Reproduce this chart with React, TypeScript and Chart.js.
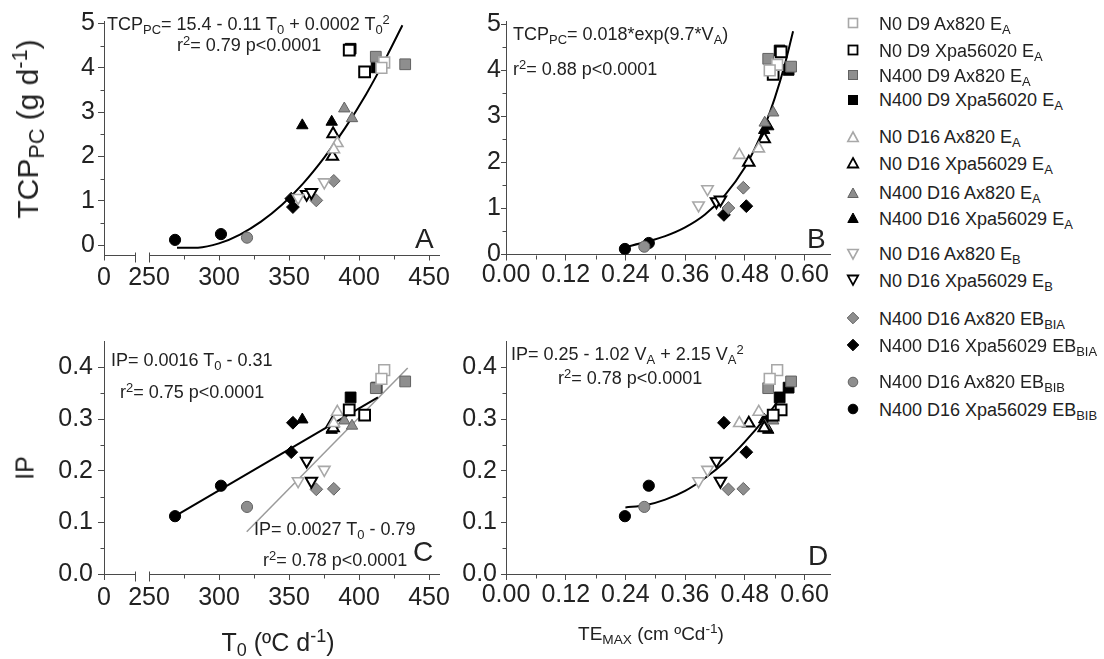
import React, { useEffect, useRef } from 'react';
import { Chart, registerables } from 'chart.js';

Chart.register(...registerables);

// ---------- DATA ----------
const SERIES_LABELS: [string, string][] = [
  ['N0 D9 Ax820 E', 'A'],
  ['N0 D9 Xpa56020 E', 'A'],
  ['N400 D9 Ax820 E', 'A'],
  ['N400 D9 Xpa56020 E', 'A'],
  ['N0 D16 Ax820 E', 'A'],
  ['N0 D16 Xpa56029 E', 'A'],
  ['N400 D16 Ax820 E', 'A'],
  ['N400 D16 Xpa56029 E', 'A'],
  ['N0 D16 Ax820 E', 'B'],
  ['N0 D16 Xpa56029 E', 'B'],
  ['N400 D16 Ax820 EB', 'BIA'],
  ['N400 D16 Xpa56029 EB', 'BIA'],
  ['N400 D16 Ax820 EB', 'BIB'],
  ['N400 D16 Xpa56029 EB', 'BIB'],
];

// T0 (ºC d-1) per series
const T0: number[][] = [
  [418, 416], [393, 404], [433, 412], [394, 412.6],
  [384.5, 382], [381, 381.5], [389.5, 395], [359.5, 380.5],
  [356.5, 375.2], [362.6, 366], [369.5, 382], [352.8, 351.6],
  [320], [268.6, 301.4],
];
// TE_MAX / V_A per series
const VA: number[][] = [
  [0.545, 0.53], [0.553, 0.537], [0.573, 0.527], [0.55, 0.568],
  [0.508, 0.469], [0.488, 0.519], [0.537, 0.52], [0.519, 0.527],
  [0.387, 0.405], [0.423, 0.431], [0.447, 0.477], [0.438, 0.483],
  [0.278], [0.239, 0.287],
];
// TCP_PC (g d-1)
const TCP: number[][] = [
  [4.12, 4.0], [4.4, 3.91], [4.08, 4.25], [4.43, 4.01],
  [2.3, 2.16], [2.0, 2.51], [3.08, 2.86], [2.7, 2.78],
  [1.07, 1.42], [1.15, 1.19], [1.01, 1.45], [0.86, 1.05],
  [0.17], [0.12, 0.25],
];
// IP
const IP: number[][] = [
  [0.395, 0.378], [0.318, 0.308], [0.373, 0.36], [0.342, 0.361],
  [0.314, 0.292], [0.292, 0.283], [0.297, 0.287], [0.299, 0.279],
  [0.18, 0.202], [0.219, 0.18], [0.164, 0.165], [0.293, 0.236],
  [0.13], [0.112, 0.171],
];

// fitted curves
const FIT_A_T = [270, 285, 300, 315, 330, 345, 360, 375, 390, 405, 420, 431];
const FIT_A_TCP = [-0.06, -0.056, 0.04, 0.24, 0.53, 0.91, 1.39, 1.97, 2.64, 3.4, 4.27, 4.96];
const FIT_B_V = [0.24, 0.28, 0.32, 0.36, 0.4, 0.44, 0.48, 0.5, 0.52, 0.54, 0.56, 0.577];
const FIT_B_TCP = [0.16, 0.27, 0.4, 0.59, 0.87, 1.29, 1.89, 2.3, 2.79, 3.39, 4.11, 4.85];
const FIT_C1_T = [268.6, 413.5];
const FIT_C1_IP = [0.112, 0.342];
const FIT_C2_T = [319.8, 434.8];
const FIT_C2_IP = [0.082, 0.399];
const FIT_D_V = [0.24, 0.28, 0.32, 0.36, 0.4, 0.44, 0.48, 0.52, 0.56, 0.575];
const FIT_D_IP = [0.129, 0.133, 0.144, 0.161, 0.186, 0.217, 0.256, 0.301, 0.353, 0.374];

// tick values
const T_TICKS = [217.857, 250, 300, 350, 400, 450];
const T_MINOR = [275, 325, 375, 425];
const V_TICKS = [0, 0.12, 0.24, 0.36, 0.48, 0.6];
const V_MINOR = [0.06, 0.18, 0.3, 0.42, 0.54];
const TCP_TICKS = [0, 1, 2, 3, 4, 5];
const TCP_MINOR = [0.5, 1.5, 2.5, 3.5, 4.5];
const IP_TICKS = [0, 0.1, 0.2, 0.3, 0.4];
const IP_MINOR = [0.05, 0.15, 0.25, 0.35];

// ---------- STYLES ----------
const FONT = '"Liberation Sans", Arial, Helvetica, sans-serif';
const AX = '#4a4a4a';
const TXT = '#222222';
const SHAPES = ['rect', 'rect', 'rect', 'rect', 'triangle', 'triangle', 'triangle', 'triangle',
  'triangleDown', 'triangleDown', 'rectRot', 'rectRot', 'circle', 'circle'];
const TONES = ['light', 'open', 'gray', 'black', 'light', 'open', 'gray', 'black',
  'light', 'open', 'gray', 'black', 'gray', 'black'];
const TONE_STYLE: Record<string, { fill: string; stroke: string; bw: number }> = {
  light: { fill: '#ffffff', stroke: '#a8a8a8', bw: 1.6 },
  open: { fill: '#ffffff', stroke: '#000000', bw: 2 },
  gray: { fill: '#8e8e8e', stroke: '#626262', bw: 1 },
  black: { fill: '#000000', stroke: '#000000', bw: 1 },
};
const RADIUS: Record<string, number> = { rect: 7.6, triangle: 6.6, triangleDown: 6.6, rectRot: 6.4, circle: 5.6 };

const axisDeco = {
  id: 'axisDeco',
  afterDraw(chart: any, _a: any, opts: any) {
    const { ctx, chartArea } = chart;
    const xs = chart.scales.x;
    const ys = chart.scales.y;
    ctx.save();
    ctx.strokeStyle = AX;
    ctx.lineWidth = 1;
    ctx.beginPath();
    const b = Math.round(chartArea.bottom) + 0.5;
    const l = Math.round(chartArea.left) + 0.5;
    (opts.xMinor || []).forEach((v: number) => {
      const p = Math.round(xs.getPixelForValue(v)) + 0.5;
      ctx.moveTo(p, b);
      ctx.lineTo(p, b + 4);
    });
    (opts.yMinor || []).forEach((v: number) => {
      const p = Math.round(ys.getPixelForValue(v)) + 0.5;
      ctx.moveTo(l - 4, p);
      ctx.lineTo(l, p);
    });
    if (opts.xBreak) {
      const p1 = Math.round(xs.getPixelForValue(opts.xBreak[0])) + 0.5;
      const p2 = Math.round(xs.getPixelForValue(opts.xBreak[1])) + 0.5;
      ctx.moveTo(chartArea.left, b);
      ctx.lineTo(p1, b);
      ctx.moveTo(p2, b);
      ctx.lineTo(chartArea.right, b);
      ctx.moveTo(p1, b - 3);
      ctx.lineTo(p1, b + 7);
      ctx.moveTo(p2, b - 3);
      ctx.lineTo(p2, b + 7);
    }
    ctx.stroke();
    ctx.restore();
  },
};

type PanelSpec = {
  X: number[][]; Y: number[][];
  fits: { xs: number[]; ys: number[]; color: string; width: number; smooth: boolean }[];
  xMin: number; xMax: number; yMin: number; yMax: number;
  xTicks: number[]; yTicks: number[]; xMinor: number[]; yMinor: number[];
  xLabel: (v: number) => string; yLabel: (v: number) => string;
  xBreak?: number[];
  padTop: number; padRight: number; yWidth: number; xHeight: number;
  yTickLen: number; yPad: number; xPad: number;
};

function buildConfig(p: PanelSpec): any {
  const datasets: any[] = [];
  p.fits.forEach((f) => {
    datasets.push({
      data: f.xs.map((x, i) => ({ x, y: f.ys[i] })),
      showLine: true,
      borderColor: f.color,
      borderWidth: f.width,
      pointRadius: 0,
      tension: f.smooth ? 0.4 : 0,
      cubicInterpolationMode: f.smooth ? 'monotone' : 'default',
      fill: false,
      order: 10,
    });
  });
  SERIES_LABELS.forEach((s, i) => {
    const tone = TONE_STYLE[TONES[i]];
    const shape = SHAPES[i];
    datasets.push({
      label: s.join(''),
      data: p.X[i].map((x, j) => ({ x, y: p.Y[i][j] })),
      pointStyle: shape === 'triangleDown' ? 'triangle' : shape,
      rotation: shape === 'triangleDown' ? 180 : 0,
      pointRadius: RADIUS[shape],
      backgroundColor: tone.fill,
      borderColor: tone.stroke,
      borderWidth: tone.bw,
      showLine: false,
      order: 1,
    });
  });
  const tickFont = { family: FONT, size: 25 };
  return {
    type: 'scatter',
    data: { datasets },
    options: {
      responsive: false,
      animation: false,
      events: [],
      layout: { padding: { top: p.padTop, right: p.padRight, left: 0, bottom: 0 } },
      plugins: {
        legend: { display: false },
        tooltip: { enabled: false },
        axisDeco: { xMinor: p.xMinor, yMinor: p.yMinor, xBreak: p.xBreak },
      },
      scales: {
        x: {
          type: 'linear',
          min: p.xMin,
          max: p.xMax,
          afterFit: (s: any) => { s.height = p.xHeight; },
          afterBuildTicks: (s: any) => { s.ticks = p.xTicks.map((v) => ({ value: v })); },
          ticks: {
            autoSkip: false, maxRotation: 0, minRotation: 0, padding: p.xPad,
            color: TXT, font: tickFont, callback: (v: any) => p.xLabel(Number(v)),
          },
          grid: { display: true, drawOnChartArea: false, drawTicks: true, tickLength: 6, color: AX, lineWidth: 1 },
          border: { display: !p.xBreak, color: AX, width: 1 },
        },
        y: {
          type: 'linear',
          min: p.yMin,
          max: p.yMax,
          afterFit: (s: any) => { s.width = p.yWidth; },
          afterBuildTicks: (s: any) => { s.ticks = p.yTicks.map((v) => ({ value: v })); },
          ticks: {
            autoSkip: false, padding: p.yPad,
            color: TXT, font: tickFont, callback: (v: any) => p.yLabel(Number(v)),
          },
          grid: { display: true, drawOnChartArea: false, drawTicks: true, tickLength: p.yTickLen, color: AX, lineWidth: 1 },
          border: { display: true, color: AX, width: 1 },
        },
      },
    },
    plugins: [axisDeco],
  };
}

function Panel({ spec, left, top, width, height }: { spec: PanelSpec; left: number; top: number; width: number; height: number }) {
  const ref = useRef<HTMLCanvasElement>(null);
  useEffect(() => {
    const chart = new Chart(ref.current as HTMLCanvasElement, buildConfig(spec));
    return () => chart.destroy();
  }, []);
  return (
    <canvas
      ref={ref}
      width={width}
      height={height}
      style={{ position: 'absolute', left, top, width, height, display: 'block' }}
    />
  );
}

const tLabel = (v: number) => (v < 240 ? '0' : String(Math.round(v)));
const vLabel = (v: number) => v.toFixed(2);
const tcpLabel = (v: number) => String(v);
const ipLabel = (v: number) => v.toFixed(1);

const SPEC_A: PanelSpec = {
  X: T0, Y: TCP,
  fits: [{ xs: FIT_A_T, ys: FIT_A_TCP, color: '#000', width: 2, smooth: true }],
  xMin: 217.857, xMax: 457.857, yMin: -0.21, yMax: 5.04,
  xTicks: T_TICKS, yTicks: TCP_TICKS, xMinor: T_MINOR, yMinor: TCP_MINOR,
  xLabel: tLabel, yLabel: tcpLabel, xBreak: [240, 250],
  padTop: 21.7, padRight: 20, yWidth: 104, xHeight: 45.5, yTickLen: 6, yPad: 3, xPad: 3,
};
const SPEC_B: PanelSpec = {
  X: VA, Y: TCP,
  fits: [{ xs: FIT_B_V, ys: FIT_B_TCP, color: '#000', width: 2, smooth: true }],
  xMin: 0, xMax: 0.652, yMin: 0, yMax: 5.06,
  xTicks: V_TICKS, yTicks: TCP_TICKS, xMinor: V_MINOR, yMinor: TCP_MINOR,
  xLabel: vLabel, yLabel: tcpLabel,
  padTop: 21.5, padRight: 8, yWidth: 46, xHeight: 45.5, yTickLen: 5, yPad: 0, xPad: 0,
};
const SPEC_C: PanelSpec = {
  X: T0, Y: IP,
  fits: [
    { xs: FIT_C1_T, ys: FIT_C1_IP, color: '#000', width: 2, smooth: false },
    { xs: FIT_C2_T, ys: FIT_C2_IP, color: '#9a9a9a', width: 1.5, smooth: false },
  ],
  xMin: 217.857, xMax: 457.857, yMin: 0, yMax: 0.45,
  xTicks: T_TICKS, yTicks: IP_TICKS, xMinor: T_MINOR, yMinor: IP_MINOR,
  xLabel: tLabel, yLabel: ipLabel, xBreak: [240, 250],
  padTop: 41.7, padRight: 20, yWidth: 104, xHeight: 85, yTickLen: 6, yPad: 5, xPad: 3,
};
const SPEC_D: PanelSpec = {
  X: VA, Y: IP,
  fits: [{ xs: FIT_D_V, ys: FIT_D_IP, color: '#000', width: 2, smooth: true }],
  xMin: 0, xMax: 0.652, yMin: 0, yMax: 0.45,
  xTicks: V_TICKS, yTicks: IP_TICKS, xMinor: V_MINOR, yMinor: IP_MINOR,
  xLabel: vLabel, yLabel: ipLabel,
  padTop: 41.7, padRight: 8, yWidth: 46, xHeight: 85, yTickLen: 5, yPad: 4, xPad: 0,
};

// ---------- TEXT HELPERS ----------
const Sub = ({ children }: { children: React.ReactNode }) => (
  <span style={{ fontSize: '0.72em', verticalAlign: '-0.3em', lineHeight: 0 }}>{children}</span>
);
const Sup = ({ children }: { children: React.ReactNode }) => (
  <span style={{ fontSize: '0.72em', verticalAlign: '0.5em', lineHeight: 0 }}>{children}</span>
);
const Txt = ({ x, y, size, children, color }: { x: number; y: number; size: number; children: React.ReactNode; color?: string }) => (
  <div style={{ position: 'absolute', left: x, top: y, fontSize: size, lineHeight: 1, whiteSpace: 'nowrap', color: color || TXT }}>
    {children}
  </div>
);
const CTxt = ({ x, y, size, rotate, children }: { x: number; y: number; size: number; rotate?: boolean; children: React.ReactNode }) => (
  <div
    style={{
      position: 'absolute', left: x, top: y, fontSize: size, lineHeight: 1, whiteSpace: 'nowrap', color: TXT,
      transform: `translate(-50%, -50%)${rotate ? ' rotate(-90deg)' : ''}`,
    }}
  >
    {children}
  </div>
);

const LEGEND_Y = [23.3, 50.3, 75, 99.5, 136.7, 163.3, 192.5, 218, 253.5, 280, 318.3, 345, 381.7, 409];

function Marker({ shape, tone }: { shape: string; tone: string }) {
  const t = TONE_STYLE[tone];
  const common = { fill: t.fill, stroke: t.stroke, strokeWidth: Math.min(t.bw, 1.8) };
  let el: React.ReactNode = null;
  if (shape === 'rect') el = <rect x={2.5} y={2.5} width={9} height={9} {...common} />;
  else if (shape === 'triangle') el = <polygon points="7,2 12.2,11.5 1.8,11.5" {...common} />;
  else if (shape === 'triangleDown') el = <polygon points="1.8,2.5 12.2,2.5 7,12" {...common} />;
  else if (shape === 'rectRot') el = <polygon points="7,1.2 12.8,7 7,12.8 1.2,7" {...common} />;
  else el = <circle cx={7} cy={7} r={4.8} {...common} />;
  return <svg width={14} height={14} style={{ display: 'block' }}>{el}</svg>;
}

export default function App() {
  return (
    <div
      style={{
        position: 'absolute', left: 0, top: 0, width: 1104, height: 659, background: '#fff',
        fontFamily: FONT, color: TXT, overflow: 'hidden',
      }}
    >
      <Panel spec={SPEC_A} left={0} top={0} width={460} height={300} />
      <Panel spec={SPEC_B} left={460} top={0} width={380} height={300} />
      <Panel spec={SPEC_C} left={0} top={300} width={460} height={359} />
      <Panel spec={SPEC_D} left={460} top={300} width={380} height={359} />

      {/* axis titles */}
      <CTxt x={28} y={129} size={30} rotate>
        TCP<Sub>PC</Sub> (g d<Sup>-1</Sup>)
      </CTxt>
      <CTxt x={25} y={468} size={25} rotate>IP</CTxt>
      <CTxt x={278} y={642} size={25}>
        T<Sub>0</Sub> (ºC d<Sup>-1</Sup>)
      </CTxt>
      <CTxt x={651} y={633} size={19}>
        TE<Sub>MAX</Sub> (cm ºCd<Sup>-1</Sup>)
      </CTxt>

      {/* equations */}
      <Txt x={107} y={14.5} size={18}>TCP<Sub>PC</Sub>= 15.4 - 0.11 T<Sub>0</Sub> + 0.0002 T<Sub>0</Sub><Sup>2</Sup></Txt>
      <Txt x={177} y={36.2} size={18}>r<Sup>2</Sup>= 0.79 p&lt;0.0001</Txt>
      <Txt x={513} y={25.2} size={18}>TCP<Sub>PC</Sub>= 0.018*exp(9.7*V<Sub>A</Sub>)</Txt>
      <Txt x={513} y={59.6} size={18}>r<Sup>2</Sup>= 0.88 p&lt;0.0001</Txt>
      <Txt x={111} y={351.2} size={18}>IP= 0.0016 T<Sub>0</Sub> - 0.31</Txt>
      <Txt x={120} y={383} size={18}>r<Sup>2</Sup>= 0.75 p&lt;0.0001</Txt>
      <Txt x={254} y={520.2} size={18}>IP= 0.0027 T<Sub>0</Sub> - 0.79</Txt>
      <Txt x={263} y={551.2} size={18}>r<Sup>2</Sup>= 0.78 p&lt;0.0001</Txt>
      <Txt x={511} y={344.6} size={18}>IP= 0.25 - 1.02 V<Sub>A</Sub> + 2.15 V<Sub>A</Sub><Sup>2</Sup></Txt>
      <Txt x={558} y={368.6} size={18}>r<Sup>2</Sup>= 0.78 p&lt;0.0001</Txt>

      {/* panel letters */}
      <Txt x={415} y={224.8} size={28}>A</Txt>
      <Txt x={807} y={224.8} size={28}>B</Txt>
      <Txt x={413} y={537.5} size={28}>C</Txt>
      <Txt x={808} y={541.8} size={28}>D</Txt>

      {/* legend */}
      {SERIES_LABELS.map((s, i) => (
        <React.Fragment key={i}>
          <div style={{ position: 'absolute', left: 846, top: LEGEND_Y[i] - 7 }}>
            <Marker shape={SHAPES[i]} tone={TONES[i]} />
          </div>
          <Txt x={879} y={LEGEND_Y[i] - 8.5} size={18}>
            {s[0]}<Sub>{s[1]}</Sub>
          </Txt>
        </React.Fragment>
      ))}
    </div>
  );
}
